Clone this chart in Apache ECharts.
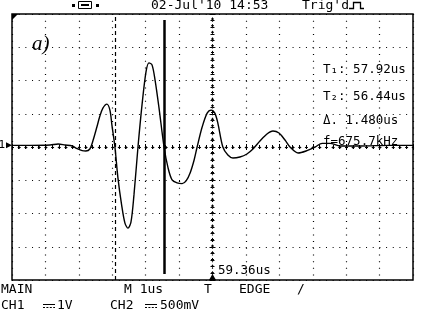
<!DOCTYPE html>
<html><head><meta charset="utf-8">
<script src="https://cdn.jsdelivr.net/npm/echarts@6/dist/echarts.min.js"></script>
<style>html,body{margin:0;padding:0;background:#fff}#c{width:427px;height:312px}</style>
</head><body><div id="c"></div>
<script>
// Time axis in microseconds relative to trigger (1 us/div), CH1 in volts (1 V/div)
const timeUs = [-6.00,-5.46,-4.86,-4.62,-4.41,-4.20,-4.05,-3.90,-3.79,-3.67,
  -3.58,-3.46,-3.37,-3.28,-3.16,-3.07,-3.01,-2.92,-2.83,-2.72,
  -2.62,-2.53,-2.44,-2.35,-2.23,-2.11,-1.99,-1.90,-1.81,-1.72,
  -1.60,-1.45,-1.33,-1.21,-1.06,-0.91,-0.79,-0.67,-0.55,-0.46,
  -0.31,-0.16,-0.04,0.07,0.16,0.31,0.46,0.61,0.82,1.03,
  1.21,1.42,1.63,1.81,1.99,2.17,2.32,2.56,2.80,3.07,
  3.28,3.52,3.82,4.41,5.31,6.00];
const ch1Volts = [0.05,0.05,0.06,0.09,0.06,0.03,-0.05,-0.11,-0.12,-0.06,
  0.18,0.60,0.93,1.17,1.29,1.11,0.66,0.00,-0.93,-1.74,
  -2.29,-2.44,-2.26,-1.44,0.00,1.26,2.26,2.53,2.47,2.02,
  1.17,0.00,-0.63,-0.99,-1.08,-1.10,-1.02,-0.78,-0.39,0.00,
  0.60,1.02,1.11,1.02,0.72,0.00,-0.24,-0.33,-0.30,-0.21,
  -0.06,0.18,0.39,0.48,0.42,0.21,0.00,-0.18,-0.12,0.00,
  0.11,0.11,0.03,0.03,0.05,0.05];
const cursorTimes = [-2.92, -1.44];   // T2 (dashed) and T1 (solid)
const readouts = ["T\u2081: 57.92us", "T\u2082: 56.44us", "\u0394. 1.480us", "f=675.7kHz"];
const headerText = "02-Jul'10 14:53";
const trigText = "Trig'd";
const delayText = "59.36us";
const footRow1 = ["MAIN", "M 1us", "T", "EDGE", "/"];
const footRow2 = ["CH1", "1V", "CH2", "500mV"];
const xRange = [-6, 6], yRange = [-4, 4];

const MONO = '"DejaVu Sans Mono", monospace';
const chart = echarts.init(document.getElementById('c'), null, {renderer: 'canvas'});
const dot = {color: '#000', width: 1.2, type: [1, 5.68]};
function edgeAxis(pos, isX) {
  return {
    type: 'value', position: pos, min: isX ? xRange[0] : yRange[0], max: isX ? xRange[1] : yRange[1], interval: 1,
    axisLine: {show: false}, axisLabel: {show: false},
    axisTick: {show: true, inside: true, length: 3, lineStyle: {color: '#000', width: 1}},
    minorTick: {show: true, splitNumber: 5, length: 2, lineStyle: {color: '#000', width: 1}},
    splitLine: {show: false}
  };
}
const xa0 = edgeAxis('bottom', true); xa0.splitLine = {show: true, lineStyle: dot};
const ya0 = edgeAxis('left', false); ya0.splitLine = {show: true, lineStyle: dot};

function txt(t, x, y, size, extra) {
  return Object.assign({type: 'text', silent: true, style: Object.assign({
    text: t, x: x, y: y, font: (size || 13) + 'px ' + MONO, fill: '#000',
    textVerticalAlign: 'middle', verticalAlign: 'middle'}, extra || {})}, {});
}
function dcSym(x, y) {
  return [
    {type: 'line', silent: true, shape: {x1: x, y1: y - 1.5, x2: x + 12, y2: y - 1.5}, style: {stroke: '#000', lineWidth: 1}},
    {type: 'line', silent: true, shape: {x1: x, y1: y + 1.5, x2: x + 12, y2: y + 1.5}, style: {stroke: '#000', lineWidth: 1, lineDash: [2, 1.4]}}
  ];
}
const graphics = [
  // small connector icon
  {type: 'rect', silent: true, shape: {x: 72, y: 4, width: 3, height: 3}, style: {fill: '#000'}},
  {type: 'rect', silent: true, shape: {x: 78.5, y: 1.5, width: 13, height: 7}, style: {fill: '#fff', stroke: '#000', lineWidth: 1}},
  {type: 'rect', silent: true, shape: {x: 81, y: 4, width: 8, height: 2}, style: {fill: '#000'}},
  {type: 'rect', silent: true, shape: {x: 96, y: 4, width: 3, height: 3}, style: {fill: '#000'}},
  txt(headerText, 151, 6, 13),
  txt(trigText, 302, 6, 13),
  {type: 'polyline', silent: true, shape: {points: [[349, 8.5], [353.5, 8.5], [353.5, 2.5], [360.5, 2.5], [360.5, 8.5], [364, 8.5]]}, style: {stroke: '#000', lineWidth: 1.3, fill: null}},
  txt('a)', 32, 44, 21, {font: 'italic 21px "Liberation Serif", "DejaVu Serif", serif'}),
  txt(readouts[0], 323, 70, 12.5),
  txt(readouts[1], 323, 97, 12.5),
  txt(readouts[2], 323, 121, 12.5),
  txt(readouts[3], 323, 142, 12.5),
  txt(delayText, 218, 271, 12.5),
  txt(footRow1[0], 1, 290, 13),
  txt(footRow1[1], 124, 290, 13),
  txt(footRow1[2], 204, 290, 13),
  txt(footRow1[3], 239, 290, 13),
  txt(footRow1[4], 297, 290, 13),
  txt(footRow2[0], 1, 306, 13),
  txt(footRow2[1], 57, 306, 13),
  txt(footRow2[2], 110, 306, 13),
  txt(footRow2[3], 160, 306, 13)
].concat(dcSym(43, 306), dcSym(145, 306));

const waveData = timeUs.map((t, i) => [t, ch1Volts[i]]);
chart.setOption({
  animation: false,
  backgroundColor: '#fff',
  grid: {left: 12, top: 14, width: 401, height: 266, show: true, borderColor: '#000', borderWidth: 1.5, backgroundColor: 'transparent'},
  xAxis: [xa0, edgeAxis('top', true)],
  yAxis: [ya0, edgeAxis('right', false)],
  graphic: graphics,
  series: [
    {
      type: 'line', silent: true, data: [], symbol: 'none',
      markLine: {
        silent: true, symbol: 'none', label: {show: false}, animation: false,
        data: [
          {yAxis: 0, lineStyle: {color: '#000', width: 1, type: [3, 3.68], dashOffset: 1}},
          {yAxis: 0, lineStyle: {color: '#000', width: 3, type: [1, 5.68]}},
          {xAxis: 0, lineStyle: {color: '#000', width: 1, type: [3, 3.68], dashOffset: 1}},
          {xAxis: 0, lineStyle: {color: '#000', width: 3, type: [1, 5.68]}},
          {xAxis: cursorTimes[0], lineStyle: {color: '#000', width: 1.2, type: [4, 3]}},
          [{coord: [cursorTimes[1], 3.82], lineStyle: {color: '#000', width: 2.5, type: 'solid'}}, {coord: [cursorTimes[1], -3.82]}]
        ]
      },
      markPoint: {
        silent: true, animation: false,
        data: [
          {coord: [xRange[0], 0.05], symbol: 'triangle', symbolRotate: -90, symbolSize: [6, 6], symbolOffset: [-3, 0],
           itemStyle: {color: '#000'}, label: {show: true, formatter: '1', position: 'left', distance: 1, color: '#000', fontFamily: MONO, fontSize: 11}},
          {coord: [0, yRange[0]], symbol: 'triangle', symbolSize: [7, 6], symbolOffset: [0, -3], itemStyle: {color: '#000'}, label: {show: false}},
          {coord: [xRange[0], yRange[1]], symbol: 'path://M0,0 L10,0 L0,10 Z', symbolSize: 6, symbolOffset: [3, 3], symbolKeepAspect: true, itemStyle: {color: '#000'}, label: {show: false}}
        ]
      }
    },
    {
      type: 'line', data: waveData, symbol: 'none', smooth: 0.3, silent: true,
      lineStyle: {color: '#000', width: 1.4}
    }
  ]
});
</script>
</body></html>
